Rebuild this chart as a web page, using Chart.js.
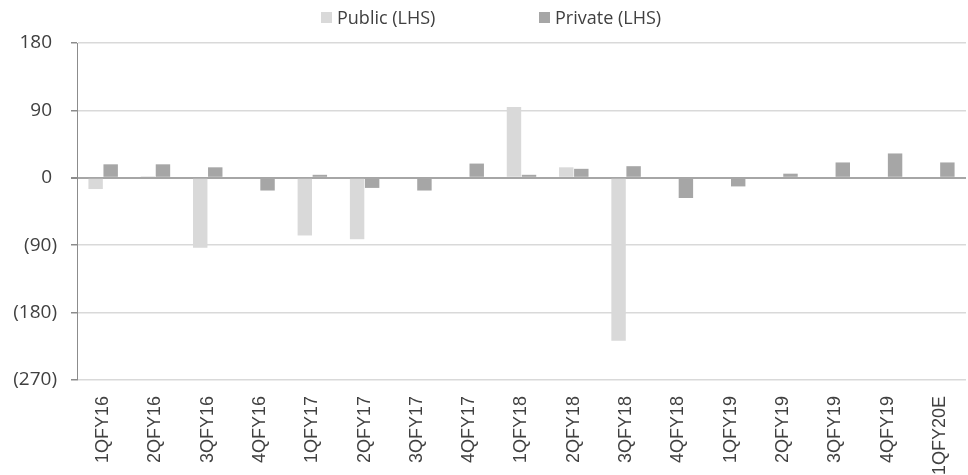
<!DOCTYPE html>
<html>
<head>
<meta charset="utf-8">
<script src="https://cdn.jsdelivr.net/npm/chart.js@4.4.1/dist/chart.umd.min.js"></script>
<style>
  html, body { margin: 0; padding: 0; background: #ffffff; }
  #wrap { position: relative; width: 968px; height: 475px; }
  .lg { position: absolute; font-family: "Open Sans", sans-serif; font-size: 18px; color: #404040; line-height: 20px; top: 7px; white-space: nowrap; }
  .bx { position: absolute; width: 11px; height: 11px; top: 12px; }
</style>
</head>
<body>
<div id="wrap">
  <canvas id="c" width="968" height="475"></canvas>
  <div class="bx" style="left:321px;background:#d9d9d9"></div>
  <div class="lg" style="left:337px">Public (LHS)</div>
  <div class="bx" style="left:539px;background:#a6a6a6"></div>
  <div class="lg" style="left:555px">Private (LHS)</div>
</div>
<script>
const categories = ["1QFY16","2QFY16","3QFY16","4QFY16","1QFY17","2QFY17","3QFY17","4QFY17","1QFY18","2QFY18","3QFY18","4QFY18","1QFY19","2QFY19","3QFY19","4QFY19","1QFY20E"];
const publicValues  = [-15, 2, -93.5, 0, -77, -82, 0, 0, 94.5, 14, -217.5, 0, 0, 0, 0, 0, 0];
const privateValues = [18, 18, 14, -17, 4, -13.5, -17, 19, 4, 12, 15.5, -27, -11.5, 5.5, 20.5, 32.5, 20.5];
const yTicks = [180, 90, 0, -90, -180, -270];

const seriesNames = ["Public (LHS)", "Private (LHS)"];
const seriesColors = ["#d9d9d9", "#a6a6a6"];

function fmt(v) {
  return v < 0 ? "(" + Math.abs(v) + ")" : v + " ";
}

new Chart(document.getElementById("c"), {
  type: "bar",
  data: {
    labels: categories,
    datasets: [
      { label: seriesNames[0], data: publicValues, backgroundColor: seriesColors[0], borderWidth: 0, categoryPercentage: 0.575, barPercentage: 0.96 },
      { label: seriesNames[1], data: privateValues, backgroundColor: seriesColors[1], borderWidth: 0, categoryPercentage: 0.575, barPercentage: 0.96 }
    ]
  },
  options: {
    responsive: false,
    animation: false,
    layout: { padding: { top: 43, right: 2, left: 0, bottom: 0 } },
    plugins: { legend: { display: false }, tooltip: { enabled: false } },
    scales: {
      x: {
        grid: { display: false, drawTicks: false },
        border: { display: false },
        ticks: {
          minRotation: 90, maxRotation: 90, padding: 16, autoSkip: false,
          color: "#404040",
          font: { family: "'Liberation Sans', Arial, sans-serif", size: 18 }
        },
        afterFit: (s) => { s.height = 95; s.paddingLeft = 0; s.paddingRight = 0; }
      },
      y: {
        min: -270, max: 180,
        afterBuildTicks: (s) => { s.ticks = yTicks.map(v => ({ value: v })); },
        grid: {
          color: (ctx) => (ctx.tick && ctx.tick.value === 0) ? "#a6a6a6" : "#d9d9d9",
          lineWidth: (ctx) => (ctx.tick && ctx.tick.value === 0) ? 2 : 1.5,
          tickColor: "#8c8c8c",
          tickLength: 6
        },
        border: { display: true, color: "#8c8c8c", width: 1 },
        ticks: {
          padding: 14,
          color: "#404040",
          font: { family: "'Open Sans', sans-serif", size: 19 },
          callback: (v) => fmt(v)
        },
        afterFit: (s) => { s.width = 77; }
      }
    }
  }
});
</script>
</body>
</html>
